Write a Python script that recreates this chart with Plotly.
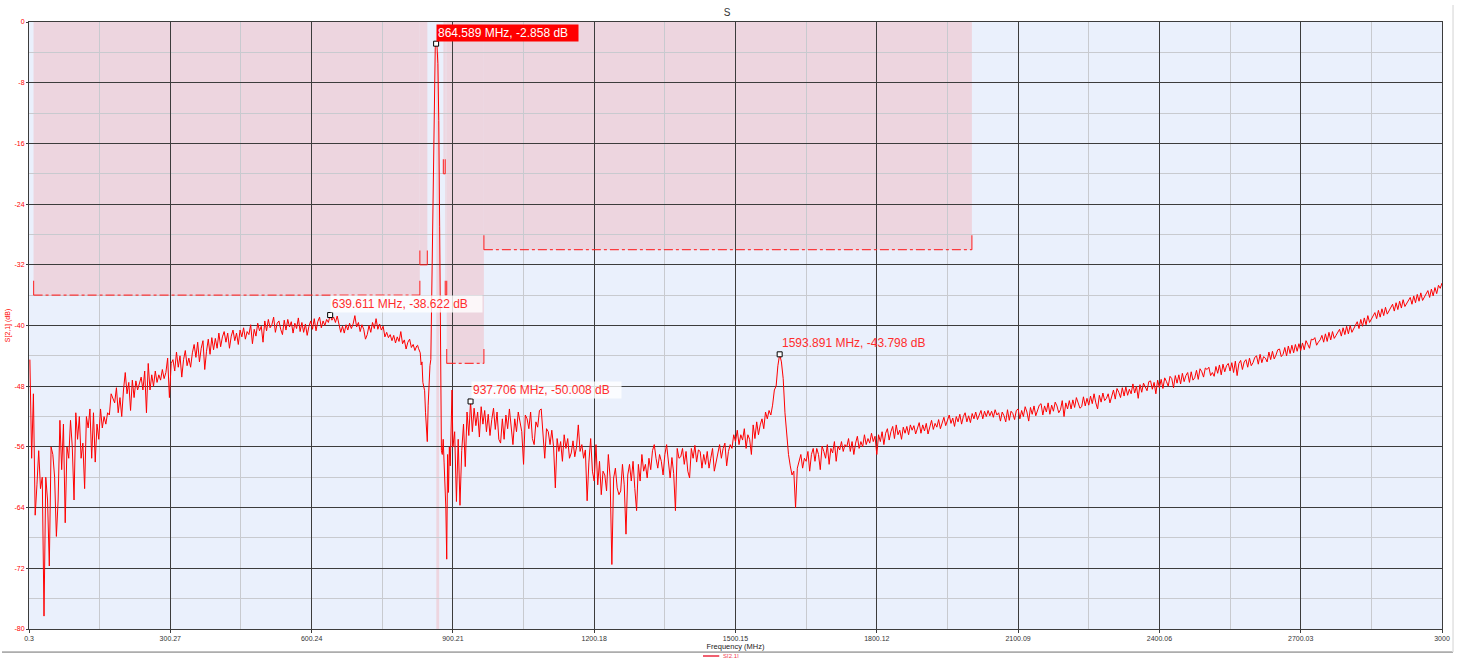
import numpy as np
import plotly.graph_objects as go

# ---------------- sweep definition (VNA linear sweep) ----------------
SWEEP_START_MHZ = 0.3
SWEEP_STOP_MHZ = 3000.0
SWEEP_POINTS = 1601

# ---------------- S[2,1] trace values (dB) ----------------
# segment A: sweep indices 1,3,5,...,439
SEG_A_START, SEG_A_STRIDE = 1, 2
SEG_A_DB = [
    -44.5, -57.5, -49.0, -65.0, -61.0, -56.5, -61.5, -60.0, -78.3, -60.0,
    -63.0, -71.7, -56.0, -57.0, -60.0, -67.8, -63.0, -52.5, -59.0, -53.0,
    -66.0, -56.0, -57.5, -52.5, -56.0, -63.0, -51.5, -55.0, -52.0, -57.5,
    -55.5, -61.5, -52.0, -53.5, -51.0, -57.5, -51.5, -58.0, -53.0, -55.0,
    -51.0, -53.5, -52.0, -53.0, -51.5, -51.8, -49.0, -49.5, -50.2, -48.2,
    -51.5, -49.5, -52.0, -48.5, -46.2, -49.0, -47.5, -51.2, -47.2, -49.5,
    -47.3, -48.5, -47.8, -46.8, -48.5, -46.0, -51.5, -45.0, -48.5, -46.5,
    -48.0, -46.0, -47.5, -46.5, -47.2, -45.8, -47.0, -46.2, -44.3, -49.5,
    -45.0, -44.5, -46.0, -43.5, -45.5, -44.0, -46.8, -44.5, -43.3, -45.3,
    -44.3, -45.5, -43.6, -42.5, -44.2, -42.2, -44.8, -43.0, -42.0, -45.8,
    -43.4, -41.8, -43.8, -41.6, -43.2, -41.7, -43.0, -41.0, -42.8, -41.5,
    -40.8, -42.2, -41.0, -43.0, -41.4, -40.6,
    -42.0, -41.0, -42.5, -40.6, -41.5, -40.3, -41.8, -40.8, -41.2, -39.9,
    -42.4, -40.5, -41.4, -39.7, -40.7, -40.1, -42.2, -39.4, -40.7, -39.2,
    -40.3, -39.9, -38.9, -40.9, -39.7, -39.4, -40.5, -41.2, -39.3, -40.6,
    -39.2, -40.2, -39.5, -41.0, -39.7, -40.4, -39.0, -40.8, -39.6, -40.9,
    -39.8, -41.3, -40.1, -39.4, -40.5, -39.1, -40.7, -39.5, -38.9, -40.3,
    -39.4, -40.0, -39.2, -39.6, -38.622, -39.3, -38.9, -39.6, -38.75, -39.8,
    -40.9, -40.1, -41.0, -39.9, -40.6, -39.7, -40.4, -39.8, -38.7, -40.2,
    -39.6, -40.8, -39.9, -40.5, -41.8, -41.2, -40.0, -40.9, -39.6, -40.4,
    -39.1, -40.5, -39.8, -40.6, -40.1, -41.5, -40.9, -41.6, -41.2, -42.0,
    -41.3, -42.3, -41.5, -42.1, -40.8, -42.4, -41.9, -43.1, -42.2, -41.8,
    -42.9, -42.5, -43.3, -42.7,
]

# segment B: sweep indices 440..479 (pass band, every point)
SEG_B_START, SEG_B_STRIDE = 440, 1
SEG_B_DB = [
    -42.6, -43.0, -43.4, -43.6, -45.2, -44.8, -47.5, -48.2, -48.6, -51.5,
    -53.8, -55.3, -50.5, -46.0, -45.3, -44.5, -36.0, -26.0, -16.0, -7.5,
    -3.4, -2.858, -3.2, -5.5, -13.0, -27.0, -44.0, -56.5, -57.0, -55.0,
    -58.0, -61.0, -64.0, -70.8, -57.0, -62.0, -56.0, -58.5, -54.0, -48.5,
]

# segment C: sweep indices 480,482,...,1600
SEG_C_START, SEG_C_STRIDE = 480, 2
SEG_C_DB = [
    -56.0, -54.0, -63.2, -55.0, -63.7, -56.5, -53.0, -58.6, -51.4, -54.5,
    -50.008, -54.0, -50.9, -53.2, -51.4, -54.7, -50.7, -53.0, -51.2, -54.0,
    -51.7, -54.5, -52.4, -50.9, -53.7, -51.4, -55.0,
    -55.5, -52.3, -55.0, -51.8, -53.6, -51.0, -53.1, -55.7, -52.3, -54.0,
    -51.4, -52.7, -54.0, -58.3, -51.8, -52.3, -53.6, -51.4, -54.9, -55.7,
    -52.7, -53.4, -51.2, -51.0, -54.4, -57.5, -53.6, -54.0, -55.7, -53.8,
    -56.0, -61.4, -54.9, -56.6, -55.3, -57.9, -54.4, -56.2, -54.9, -57.5,
    -56.8, -55.2, -57.3, -56.0, -53.1, -56.6, -55.7, -57.5, -56.4, -63.1,
    -58.0, -54.9, -59.2, -60.5, -55.7, -61.0, -57.9, -62.3, -59.2, -59.7,
    -61.8, -57.0, -60.0, -71.5, -60.1, -58.8, -61.4, -62.3, -61.8, -58.3,
    -61.0, -67.5, -59.7, -58.3, -60.5, -57.9, -61.5, -64.4, -58.3, -60.5,
    -57.0, -59.2, -58.3, -60.1, -57.5, -59.0, -56.5, -55.7, -57.5, -58.8,
    -57.0, -57.9, -59.7, -57.0, -55.7, -58.2, -60.1, -57.4, -59.5, -64.4,
    -56.2, -57.5, -57.3, -56.2, -58.3, -56.6, -59.2, -60.1, -56.2, -57.5,
    -55.8, -58.0, -56.4,
    -56.6, -58.8, -57.0, -58.3, -56.6, -58.8, -57.5, -56.2, -59.2, -57.9,
    -56.6, -55.7, -57.5, -56.2, -55.5, -58.5, -56.6, -55.7, -56.2, -54.4,
    -55.3, -53.8, -55.7, -54.4, -55.1, -53.6, -56.2, -54.4, -55.0, -57.0,
    -53.1, -54.9, -52.7, -54.4, -53.1, -52.3, -53.6, -51.4, -52.3, -51.2,
    -51.8, -50.5, -48.5, -48.0, -45.3,
    -43.798,
    -44.8, -47.0, -51.5, -54.5, -57.0, -58.5, -59.7, -59.2, -64.0, -58.8,
    -57.9, -57.0, -58.8, -57.5, -57.9, -56.6, -59.2, -57.0, -56.2, -57.9,
    -56.2, -57.0, -59.0, -55.9, -56.6, -57.5, -55.7, -58.3, -56.2, -56.8,
    -55.3, -57.9, -55.9, -56.4, -55.3, -56.6, -55.7, -56.0, -54.9, -56.6,
    -55.3, -57.0, -55.5, -54.6, -56.2, -55.3, -56.0, -54.4, -55.7, -54.9,
    -55.5, -54.2, -55.3, -54.6, -57.0, -54.4, -55.3, -54.0, -55.7, -54.2,
    -53.6, -55.1, -54.0, -53.3, -54.9, -53.1, -54.4, -53.8, -55.0, -53.4,
    -54.2, -53.3, -54.4, -53.1, -53.8, -53.2, -54.3, -53.6, -52.8, -54.2,
    -53.1, -53.9, -52.9, -54.3, -53.4, -52.5, -53.7, -52.9, -53.4, -52.4,
    -53.6, -52.7, -52.1, -53.2, -52.6, -51.8, -52.9, -52.2, -53.3, -52.0,
    -52.7, -51.7, -53.0, -52.0, -51.5, -52.7, -51.9, -52.8, -51.6, -52.3,
    -51.4, -52.4, -51.8, -51.2, -52.3, -51.3, -52.0, -51.2, -51.9, -51.3,
    -52.1, -51.1, -51.8, -51.5,
    -52.6, -51.4, -51.9, -52.7, -51.1, -52.5, -51.3, -51.6, -52.4, -51.2,
    -51.0, -52.3, -51.2, -52.0, -50.7, -51.4, -52.6, -50.8, -51.7, -50.6,
    -51.9, -51.2, -50.5, -50.3, -51.8, -50.6, -51.4, -50.2, -51.7, -50.5,
    -51.3, -50.1, -50.6, -51.5, -51.1, -49.9, -52.0, -50.2, -51.0, -49.9,
    -51.0, -49.8, -50.8, -49.5, -50.1, -50.9, -50.7, -49.4, -50.6, -49.6,
    -50.5, -49.3, -50.3, -49.0, -50.2, -51.0, -49.2, -50.1, -48.9, -49.9,
    -49.6, -49.0, -50.2, -49.2, -48.5, -49.7, -48.3, -48.8, -49.5, -48.2,
    -49.3, -48.1, -49.2, -48.4, -49.0, -47.7, -48.9, -48.0, -49.6, -47.8,
    -48.8, -47.6, -48.2, -48.6, -47.4, -47.3, -48.4, -47.5, -49.0, -47.2,
    -48.2, -47.1, -48.3, -46.9, -47.4, -48.0, -46.7, -47.0, -48.2, -46.6,
    -47.6, -46.5, -47.7, -46.3, -47.4, -46.6, -46.2, -47.5, -46.1, -47.2,
    -46.9, -45.9, -47.1, -45.7, -46.1, -46.8, -45.6, -45.8, -45.5, -46.6,
    -46.2, -46.7, -45.4, -46.3, -45.2, -46.5, -45.1, -46.1, -45.3, -45.0,
    -46.0, -44.9, -46.2, -44.7, -46.6, -45.0, -44.6, -45.8, -44.8, -44.5,
    -45.5, -44.3, -45.3, -44.9, -44.2, -44.0, -45.1, -43.8, -44.9, -44.1,
    -44.3, -44.8, -43.5, -44.5, -43.4, -44.4, -43.9, -43.2, -43.1, -44.1,
    -43.8, -42.9, -44.0, -42.7, -43.7, -42.6, -43.6, -42.5, -43.4, -42.4,
    -43.3, -42.3, -43.2, -42.0, -42.5, -43.0, -41.8, -41.9, -41.6, -42.6,
    -42.2, -41.9, -41.3, -42.2, -41.1, -42.1, -40.9, -41.9, -40.8, -41.7,
    -41.3, -40.9, -40.5, -41.4, -40.3, -41.2, -40.1, -41.1, -40.0, -40.9,
    -40.4, -40.0, -39.5, -40.4, -39.2, -40.1, -39.0, -39.9, -38.7, -39.6,
    -39.2, -38.8, -38.3, -39.1, -38.0, -38.9, -37.8, -38.7, -37.6, -38.5,
    -38.1, -37.7, -37.2, -38.1, -37.0, -37.9, -36.8, -37.7, -36.6, -37.5,
    -37.1, -36.8, -36.3, -37.2, -36.1, -37.0, -35.9, -36.8, -35.7, -36.7,
    -36.3, -35.9, -35.4, -36.3, -35.2, -36.1, -35.0, -35.8, -34.7, -35.1,
    -34.4,
]

# ---------------- markers ----------------
MARKER_FREQ = [864.589, 639.611, 937.706, 1593.891]
MARKER_DB = [-2.858, -38.622, -50.008, -43.798]

# ---------------- limit masks ----------------
MASK_START = [10.0, 830.0, 880.0, 884.0, 887.0, 966.0]
MASK_STOP = [830.0, 846.0, 884.0, 887.0, 966.0, 2002.0]
MASK_LIMIT = [-36.0, -32.0, -20.0, -36.0, -45.0, -30.0]
PASS_START, PASS_STOP, PASS_LIMIT = 865.0, 871.0, -4.0

# ---------------- axes ----------------
X_TICKS = [0.3, 300.27, 600.24, 900.21, 1200.18, 1500.15, 1800.12, 2100.09,
           2400.06, 2700.03, 3000.0]
X_TICK_TEXT = ["0.3", "300.27", "600.24", "900.21", "1200.18", "1500.15",
               "1800.12", "2100.09", "2400.06", "2700.03", "3000"]
Y_TICKS = [0, -8, -16, -24, -32, -40, -48, -56, -64, -72, -80]
Y_TICK_TEXT = ["0", "-8", "-16", "-24", "-32", "-40", "-48", "-56", "-64",
               "-72", "-80"]
TRACE_NAME = "S[2,1]"

# ---------------- build the sweep ----------------
step = (SWEEP_STOP_MHZ - SWEEP_START_MHZ) / (SWEEP_POINTS - 1)


def seg_freq(start, stride, vals):
    idx = start + stride * np.arange(len(vals))
    return SWEEP_START_MHZ + idx * step


assert len(SEG_A_DB) == 220, len(SEG_A_DB)
assert len(SEG_B_DB) == 40, len(SEG_B_DB)
assert len(SEG_C_DB) == 561, len(SEG_C_DB)

freq = np.concatenate([
    seg_freq(SEG_A_START, SEG_A_STRIDE, SEG_A_DB),
    seg_freq(SEG_B_START, SEG_B_STRIDE, SEG_B_DB),
    seg_freq(SEG_C_START, SEG_C_STRIDE, SEG_C_DB),
])
s21 = np.concatenate([SEG_A_DB, SEG_B_DB, SEG_C_DB])

RED = "#FF0000"
LABEL_RED = "#FF2D2D"
PINK = "#EDD5DF"
BG = "#EAF0FC"
MAJOR = "#3C3C3C"
MINOR = "#C8CACF"
FONT = "Liberation Sans, Arial, sans-serif"

fig = go.Figure()

fig.add_trace(go.Scatter(
    x=freq, y=s21, mode="lines", name=TRACE_NAME,
    line=dict(color=RED, width=1), showlegend=False,
))
fig.add_trace(go.Scatter(
    x=MARKER_FREQ, y=MARKER_DB, mode="markers", showlegend=False,
    marker=dict(symbol="square", size=5, color="white",
                line=dict(color="black", width=1)),
))

shapes = []
# shaded mask regions (below gridlines)
for f0, f1, lim in zip(MASK_START, MASK_STOP, MASK_LIMIT):
    shapes.append(dict(type="rect", xref="x", yref="y", x0=f0, x1=f1,
                       y0=lim, y1=0, fillcolor=PINK, line=dict(width=0),
                       layer="below"))
shapes.append(dict(type="rect", xref="x", yref="y", x0=PASS_START,
                   x1=PASS_STOP, y0=-80, y1=PASS_LIMIT, fillcolor=PINK,
                   line=dict(width=0), layer="below"))
# mask limit lines
for f0, f1, lim in zip(MASK_START, MASK_STOP, MASK_LIMIT):
    shapes.append(dict(type="line", xref="x", yref="y", x0=f0, x1=f1,
                       y0=lim, y1=lim,
                       line=dict(color="rgba(255,30,30,0.85)", width=1.2,
                                 dash="dashdot")))
    for fe in (f0, f1):
        shapes.append(dict(type="line", xref="x", yref="y", x0=fe, x1=fe,
                           y0=lim, y1=lim + 1.9,
                           line=dict(color="rgba(255,30,30,0.85)", width=1.2)))

# outer frame lines of the original window
shapes.append(dict(type="line", xref="paper", yref="paper", x0=-0.0191,
                   x1=1.0078, y0=-0.038, y1=-0.038,
                   line=dict(color="#6E6E6E", width=1)))
shapes.append(dict(type="line", xref="paper", yref="paper", x0=1.0078,
                   x1=1.0078, y0=-0.038, y1=1.028,
                   line=dict(color="#E2E2E2", width=1.5)))
# legend sample line (bottom, partly cut off in the original)
shapes.append(dict(type="line", xref="paper", yref="paper", x0=0.4770,
                   x1=0.4885, y0=-0.0445, y1=-0.0445,
                   line=dict(color="#F06070", width=2)))

annotations = []
label_styles = [
    dict(color="white", bg="#FF0000", width=139),
    dict(color=LABEL_RED, bg="rgba(255,255,255,0.8)", width=149),
    dict(color=LABEL_RED, bg="rgba(255,255,255,0.8)", width=147),
    dict(color=LABEL_RED, bg="rgba(0,0,0,0)", width=None),
]
for f, d, st in zip(MARKER_FREQ, MARKER_DB, label_styles):
    a = dict(x=f, y=d, xref="x", yref="y", showarrow=False,
             text=f"{f:.3f} MHz, {d:.3f} dB", xanchor="left",
             yanchor="bottom", xshift=0, yshift=2, align="left",
             font=dict(family=FONT, size=12, color=st["color"]),
             bgcolor=st["bg"], borderpad=1)
    if st["width"]:
        a["width"] = st["width"]
    annotations.append(a)
# legend text
annotations.append(dict(x=0.4895, y=-0.0445, xref="paper", yref="paper",
                        showarrow=False, text=TRACE_NAME, xanchor="left",
                        yanchor="middle",
                        font=dict(family=FONT, size=6, color="#F04050")))

fig.update_layout(
    width=1461, height=658,
    margin=dict(l=29, r=19, t=22, b=29, pad=0),
    paper_bgcolor="white", plot_bgcolor=BG,
    title=dict(text="S", x=0.494, xref="paper", y=1 - 12 / 658,
               yanchor="middle", font=dict(family=FONT, size=10,
                                           color="#333333")),
    showlegend=False,
    shapes=shapes, annotations=annotations,
    xaxis=dict(
        range=[SWEEP_START_MHZ, SWEEP_STOP_MHZ], tickmode="array",
        tickvals=X_TICKS, ticktext=X_TICK_TEXT,
        showgrid=True, gridcolor=MAJOR, gridwidth=1,
        minor=dict(tickmode="array",
                   tickvals=[(a + b) / 2 for a, b in zip(X_TICKS[:-1],
                                                         X_TICKS[1:])],
                   showgrid=True, gridcolor=MINOR, gridwidth=1,
                   ticks=""),
        showline=True, linecolor=MAJOR, linewidth=1, mirror=True,
        ticks="outside", ticklen=3, tickcolor=MAJOR,
        tickfont=dict(family=FONT, size=7, color="#333333"),
        title=dict(text="Frequency (MHz)", standoff=2,
                   font=dict(family=FONT, size=7.5, color="#222222")),
        zeroline=False, automargin=False,
    ),
    yaxis=dict(
        range=[-80, 0], tickmode="array", tickvals=Y_TICKS,
        ticktext=Y_TICK_TEXT,
        showgrid=True, gridcolor=MAJOR, gridwidth=1,
        minor=dict(dtick=4, tick0=0, showgrid=True, gridcolor=MINOR,
                   gridwidth=1, ticks=""),
        showline=True, linecolor=MAJOR, linewidth=1, mirror=True,
        ticks="outside", ticklen=2, tickcolor=MAJOR,
        tickfont=dict(family=FONT, size=7, color=RED),
        title=dict(text="S[2,1] (dB)", standoff=3,
                   font=dict(family=FONT, size=7, color=RED)),
        zeroline=False, automargin=False,
    ),
)

fig.write_html(
    "out.html",
    config={"displayModeBar": False},
    post_script="document.body.style.margin='0';"
                "document.body.style.padding='0';"
                "document.body.style.overflow='hidden';",
)
